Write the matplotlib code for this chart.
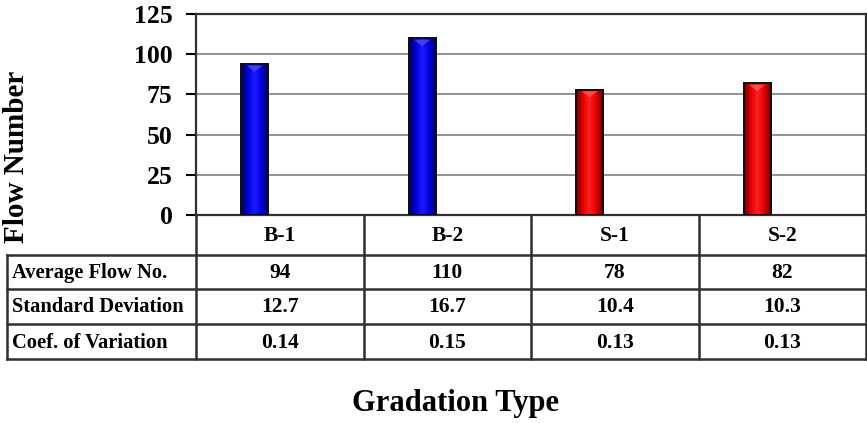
import matplotlib.pyplot as plt
import numpy as np
from matplotlib.colors import LinearSegmentedColormap

plt.rcParams['font.family'] = ['Liberation Serif', 'DejaVu Serif']
plt.rcParams['font.weight'] = 'bold'

# gradation types and measured flow numbers
gradations = ['B-1', 'B-2', 'S-1', 'S-2']
avg_flow = [94, 110, 78, 82]
std_dev = ['12.7', '16.7', '10.4', '10.3']
coef_var = ['0.14', '0.15', '0.13', '0.13']
row_names = ['Average Flow No.', 'Standard Deviation', 'Coef. of Variation']
bar_colors = ['blue', 'blue', 'red', 'red']

W, H = 867, 423
fig = plt.figure(figsize=(W / 100, H / 100), dpi=100)

# pixel layout of plot box and table
x_left, x_right = 196, 866
y_top, y_zero = 14, 215
row_lines = [215, 255, 289, 324, 359]
tab_left = 7

ax = fig.add_axes([x_left / W, 1 - y_zero / H, (x_right - x_left) / W, (y_zero - y_top) / H])
ax.set_yticks([0, 25, 50, 75, 100, 125])
ax.set_xticks([])
ax.tick_params(axis='y', direction='out', length=7, width=1.5, pad=10, labelsize=18.5)
for lab in ax.get_yticklabels():
    lab.set_fontweight('bold')
ax.yaxis.grid(True, color='#8a8a8a', linewidth=1.3)
ax.set_axisbelow(True)
for s in ax.spines.values():
    s.set_color('#303030')
    s.set_linewidth(1.6)

cmaps = {
    'blue': LinearSegmentedColormap.from_list('b', ['#00005a', '#0000d8', '#1a1aff', '#0000e0', '#000070']),
    'red': LinearSegmentedColormap.from_list('r', ['#6a0000', '#e00000', '#ff2020', '#e80000', '#700000']),
}
grad = np.linspace(0, 1, 64).reshape(1, -1)
x = np.arange(len(gradations)) - 0.15
bars = ax.bar(x, avg_flow, width=0.16, color=bar_colors, edgecolor='#101010', linewidth=1.4, zorder=3)
for b, c in zip(bars, bar_colors):
    x0, w, h = b.get_x(), b.get_width(), b.get_height()
    im = ax.imshow(grad, cmap=cmaps[c], aspect='auto', extent=(x0, x0 + w, 0, h), zorder=3.5)
    im.set_clip_path(b)
    # small bevel highlight at the top of each bar
    light = '#6060ff' if c == 'blue' else '#ff7070'
    tri = plt.Polygon([(x0 + w * 0.2, h - 1), (x0 + w * 0.8, h - 1), (x0 + w * 0.5, h - 5)],
                      closed=True, color=light, alpha=0.6, lw=0, zorder=3.6)
    ax.add_patch(tri)
    ax.add_patch(plt.Rectangle((x0, 0), w, h, fill=False, ec='#101010', lw=1.4, zorder=3.7))
ax.set_xlim(-0.5, 3.5)
ax.set_ylim(0, 125)

# data table drawn in pixel coordinates
tax = fig.add_axes([0, 0, 1, 1])
tax.set_xlim(0, W)
tax.set_ylim(H, 0)
tax.axis('off')
col_w = (x_right - x_left) / len(gradations)
col_edges = [x_left + i * col_w for i in range(len(gradations) + 1)]
lc = '#303030'
lw = 1.8
for yl in row_lines[1:]:
    tax.plot([tab_left, x_right], [yl, yl], color=lc, lw=lw)
tax.plot([tab_left, tab_left], [row_lines[1], row_lines[-1]], color=lc, lw=lw)
for xe in col_edges:
    tax.plot([xe, xe], [row_lines[0], row_lines[-1]], color=lc, lw=lw)

def row_mid(i):
    return (row_lines[i] + row_lines[i + 1]) / 2 + 1

fs = 15.5
for j, g in enumerate(gradations):
    cx = col_edges[j] + col_w / 2
    tax.text(cx, row_mid(0), g, ha='center', va='center', fontsize=fs, fontweight='bold')
    vals = [str(avg_flow[j]), std_dev[j], coef_var[j]]
    for r, v in enumerate(vals):
        tax.text(cx, row_mid(r + 1), v, ha='center', va='center', fontsize=fs, fontweight='bold')
for r, name in enumerate(row_names):
    tax.text(tab_left + 5, row_mid(r + 1), name, ha='left', va='center', fontsize=14.8, fontweight='bold')

tax.text(17, 157, 'Flow Number', rotation=90, ha='center', va='center', fontsize=21, fontweight='bold')
tax.text(455, 404, 'Gradation Type', ha='center', va='center', fontsize=22, fontweight='bold')

fig.savefig('out.png', dpi=100)
